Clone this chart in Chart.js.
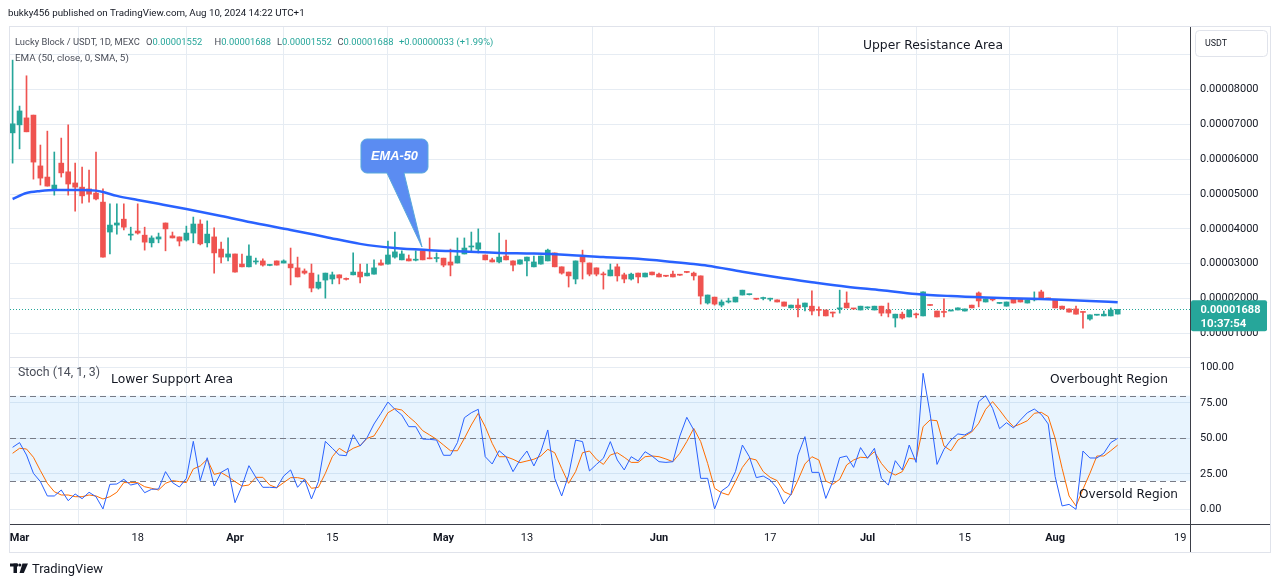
<!DOCTYPE html>
<html>
<head>
<meta charset="utf-8">
<title>Lucky Block / USDT</title>
<script src="https://cdn.jsdelivr.net/npm/chart.js@4.4.1/dist/chart.umd.min.js"></script>
<style>
  html, body { margin: 0; padding: 0; background: #ffffff; }
  canvas { display: block; }
</style>
</head>
<body>
<canvas id="chart" width="1281" height="587"></canvas>
<script>
// Prices are in units of 1e-5 USDT, one entry per daily candle (Feb 29 .. Aug 10)
const PRICE_UNIT = 1e-5;

const openP = [
  6.76, 6.99, 7.19, 7.27, 5.81, 5.49, 5.15, 5.89, 5.64, 5.32,
  5.20, 5.15, 5.03, 4.77, 3.91, 4.11, 4.28, 3.82, 3.94, 3.82,
  3.60, 3.71, 4.17, 3.80, 3.77, 3.68, 3.88, 4.14, 3.60, 3.77,
  3.42, 3.19, 3.28, 2.99, 2.91, 3.05, 3.08, 2.95, 3.08, 3.02,
  2.99, 2.88, 2.79, 2.73, 2.30, 2.53, 2.56, 2.68, 2.57, 2.68,
  2.76, 2.65, 2.70, 3.02, 2.99, 3.19, 3.11, 3.14, 3.10, 3.37,
  3.17, 3.15, 3.16, 3.05, 3.02, 3.28, 3.48, 3.42, 3.25, 3.11,
  3.05, 3.22, 3.08, 2.99, 3.08, 2.91, 2.99, 3.08, 3.31, 2.91,
  2.76, 2.56, 3.19, 3.02, 2.88, 2.70, 2.65, 2.91, 2.68, 2.56,
  2.73, 2.62, 2.76, 2.70, 2.66, 2.70, 2.68, 2.76, 2.73, 2.65,
  1.87, 2.04, 1.81, 1.90, 1.90, 2.10, 2.11, 1.99, 2.00, 1.98,
  1.96, 1.90, 1.73, 1.81, 1.76, 1.78, 1.68, 1.67, 1.61, 1.70,
  1.87, 1.71, 1.67, 1.73, 1.67, 1.78, 1.67, 1.44, 1.55, 1.47,
  1.55, 1.50, 1.82, 1.64, 1.62, 1.64, 1.67, 1.64, 1.81, 2.16,
  1.90, 1.97, 1.86, 1.78, 1.99, 1.99, 1.87, 1.96, 2.19, 2.01,
  1.96, 1.78, 1.70, 1.70, 1.62, 1.41, 1.52, 1.50, 1.50, 1.552
];
const highP = [
  8.85, 7.53, 8.40, 7.27, 6.41, 6.81, 6.21, 6.61, 6.99, 5.89,
  5.78, 5.69, 6.21, 5.15, 4.72, 4.72, 4.72, 4.05, 4.72, 4.05,
  3.80, 3.88, 4.17, 3.91, 3.77, 4.08, 4.34, 4.26, 4.23, 4.03,
  3.62, 3.74, 3.28, 3.28, 3.54, 3.16, 3.14, 2.97, 3.08, 3.11,
  3.45, 3.19, 2.85, 2.99, 2.68, 2.73, 2.76, 2.68, 2.59, 3.31,
  2.99, 2.99, 3.11, 3.11, 3.65, 3.91, 3.37, 3.25, 3.37, 3.37,
  3.74, 3.31, 3.16, 3.42, 3.74, 3.74, 3.91, 4.00, 3.25, 3.16,
  3.88, 3.68, 3.08, 3.11, 3.19, 3.22, 3.22, 3.42, 3.31, 2.91,
  2.76, 3.08, 3.39, 3.02, 2.88, 2.76, 2.99, 2.99, 2.73, 2.73,
  2.73, 2.73, 2.76, 2.73, 2.66, 2.79, 2.69, 2.77, 2.76, 2.65,
  2.10, 2.04, 1.96, 2.01, 2.04, 2.24, 2.13, 2.00, 2.04, 2.01,
  1.96, 1.90, 1.81, 1.99, 1.87, 2.22, 1.76, 1.67, 1.61, 2.24,
  2.19, 1.72, 1.78, 1.76, 1.78, 1.78, 1.87, 1.55, 1.61, 1.67,
  1.58, 2.19, 1.82, 1.64, 1.99, 1.67, 1.73, 1.70, 1.81, 2.19,
  1.99, 2.01, 1.88, 1.90, 1.99, 1.99, 1.96, 2.19, 2.24, 2.01,
  1.96, 1.78, 1.70, 1.78, 1.62, 1.53, 1.54, 1.64, 1.73, 1.688
];
const lowP = [
  5.89, 6.30, 6.79, 5.43, 5.26, 5.23, 4.97, 5.49, 4.97, 4.51,
  4.74, 4.77, 4.83, 3.19, 3.28, 3.85, 3.97, 3.68, 3.85, 3.39,
  3.48, 3.60, 3.37, 3.74, 3.51, 3.65, 3.60, 3.54, 3.48, 2.73,
  3.02, 3.08, 2.76, 2.91, 2.91, 2.99, 2.93, 2.94, 2.96, 3.02,
  2.39, 2.62, 2.70, 2.19, 2.27, 2.01, 2.42, 2.42, 2.53, 2.68,
  2.45, 2.65, 2.70, 2.96, 2.99, 3.16, 3.11, 3.08, 3.08, 3.11,
  3.14, 3.05, 2.91, 2.65, 3.02, 3.28, 3.34, 3.31, 3.11, 3.05,
  3.02, 3.11, 2.79, 2.99, 2.65, 2.91, 2.99, 3.08, 2.91, 2.70,
  2.33, 2.42, 2.56, 2.65, 2.65, 2.27, 2.65, 2.50, 2.45, 2.53,
  2.45, 2.62, 2.68, 2.62, 2.63, 2.62, 2.66, 2.74, 2.53, 1.84,
  1.84, 1.81, 1.76, 1.87, 1.90, 2.10, 2.10, 1.97, 1.96, 1.93,
  1.90, 1.78, 1.73, 1.47, 1.64, 1.53, 1.50, 1.50, 1.47, 1.58,
  1.73, 1.69, 1.67, 1.70, 1.67, 1.50, 1.47, 1.18, 1.41, 1.47,
  1.44, 1.50, 1.80, 1.47, 1.47, 1.64, 1.67, 1.64, 1.73, 1.76,
  1.90, 1.93, 1.85, 1.78, 1.87, 1.90, 1.87, 1.93, 1.99, 1.99,
  1.73, 1.70, 1.61, 1.55, 1.15, 1.38, 1.52, 1.50, 1.50, 1.552
];
const closeP = [
  7.02, 7.39, 6.79, 5.92, 5.46, 5.23, 5.26, 5.61, 5.29, 5.20,
  4.95, 5.00, 4.86, 3.19, 4.11, 4.17, 4.05, 3.85, 3.88, 3.62,
  3.74, 3.77, 4.00, 3.74, 3.65, 3.88, 4.14, 3.57, 3.85, 3.31,
  3.19, 3.28, 2.76, 2.91, 3.22, 3.08, 2.96, 2.96, 2.96, 3.08,
  2.88, 2.62, 2.73, 2.30, 2.47, 2.73, 2.68, 2.59, 2.55, 2.76,
  2.62, 2.73, 2.88, 2.96, 3.25, 3.34, 3.28, 3.08, 3.13, 3.11,
  3.14, 3.17, 2.96, 2.96, 3.22, 3.45, 3.51, 3.60, 3.11, 3.05,
  3.19, 3.11, 2.96, 3.11, 3.19, 3.05, 3.22, 3.39, 2.91, 2.73,
  2.65, 3.08, 3.05, 2.70, 2.70, 2.68, 2.82, 2.65, 2.56, 2.70,
  2.62, 2.73, 2.68, 2.62, 2.64, 2.62, 2.67, 2.75, 2.65, 2.07,
  2.10, 1.84, 1.90, 1.93, 2.04, 2.24, 2.12, 1.98, 2.01, 1.99,
  1.90, 1.78, 1.81, 1.73, 1.87, 1.64, 1.66, 1.50, 1.58, 1.73,
  1.73, 1.70, 1.78, 1.75, 1.78, 1.58, 1.58, 1.55, 1.44, 1.67,
  1.53, 2.19, 1.80, 1.47, 1.60, 1.67, 1.73, 1.70, 1.73, 1.93,
  1.99, 1.96, 1.87, 1.90, 1.87, 1.90, 1.96, 1.99, 1.99, 1.99,
  1.73, 1.70, 1.61, 1.55, 1.60, 1.53, 1.53, 1.55, 1.67, 1.688
];

// EMA 50 at these bars
const emaBars = [0, 2, 4, 6, 8, 10, 12, 13, 15, 18, 21, 25, 30, 35, 40, 45, 50, 55, 60, 65,
  70, 75, 80, 85, 90, 95, 98, 100, 105, 110, 115, 120, 125, 130, 135, 140, 145, 150, 155, 159];
const emaValues = [4.86, 5.03, 5.09, 5.12, 5.12, 5.12, 5.10, 5.06, 4.95, 4.83, 4.72, 4.57, 4.37, 4.16, 3.97, 3.77, 3.57, 3.45, 3.39, 3.35,
  3.31, 3.29, 3.25, 3.19, 3.14, 3.05, 2.99, 2.94, 2.77, 2.61, 2.47, 2.34, 2.24, 2.13, 2.07, 2.03, 2.00, 1.97, 1.93, 1.89];

// Stoch (14, 1, 3)
const stochK = [
  43.7, 47.0, 38.3, 25.4, 19.6, 9.5, 9.5, 13.7, 6.2, 10.9,
  7.6, 12.1, 9.0, 0.4, 17.7, 17.9, 21.2, 17.2, 18.4, 11.8,
  14.2, 14.4, 26.6, 18.9, 15.8, 21.9, 47.9, 20.3, 36.4, 16.5,
  26.1, 28.9, 4.8, 16.5, 30.8, 22.6, 15.6, 15.6, 15.3, 23.5,
  27.8, 15.6, 21.2, 7.4, 19.6, 47.9, 43.0, 38.3, 37.8, 52.6,
  44.6, 50.5, 60.1, 67.6, 75.5, 70.4, 66.4, 58.2, 58.2, 49.5,
  49.3, 48.8, 38.1, 38.1, 47.0, 64.5, 68.0, 70.4, 37.1, 32.0,
  41.3, 37.1, 26.6, 34.8, 41.1, 30.6, 40.6, 55.9, 21.9, 9.5,
  24.2, 48.8, 47.7, 27.1, 31.7, 36.0, 47.7, 34.8, 27.8, 37.1,
  34.1, 40.6, 37.6, 33.6, 33.1, 33.6, 51.6, 64.8, 55.9, 21.9,
  21.9, 0.4, 13.0, 16.5, 26.6, 45.3, 37.1, 22.4, 23.5, 20.7,
  14.9, 3.9, 10.7, 38.3, 51.2, 26.1, 26.1, 7.8, 19.6, 36.4,
  37.6, 29.6, 43.5, 36.0, 43.0, 21.9, 17.2, 34.3, 27.8, 45.3,
  33.1, 95.7, 67.6, 31.7, 42.3, 48.8, 53.1, 52.4, 55.2, 75.8,
  80.0, 71.1, 56.8, 61.0, 57.3, 62.9, 68.0, 70.6, 66.9, 60.1,
  23.1, 2.5, 3.6, 0.1, 41.1, 36.2, 36.2, 39.5, 47.0, 50.0
];
const stochD = [
  39.5, 43.0, 42.5, 36.7, 27.3, 18.4, 12.5, 10.2, 10.2, 9.0,
  9.0, 10.2, 9.5, 7.4, 9.0, 12.1, 18.9, 18.9, 18.9, 16.0,
  14.9, 13.7, 18.4, 20.3, 19.6, 18.9, 28.5, 30.6, 35.3, 24.7,
  25.9, 23.1, 19.6, 16.5, 17.2, 22.6, 22.6, 17.2, 15.3, 18.9,
  22.4, 22.4, 21.4, 14.9, 15.6, 25.4, 37.1, 43.0, 39.9, 43.0,
  44.9, 50.0, 51.7, 59.4, 68.0, 70.9, 69.9, 65.2, 61.0, 55.4,
  52.4, 49.3, 45.3, 41.3, 41.3, 50.0, 59.4, 67.6, 58.2, 46.5,
  37.1, 37.1, 35.3, 32.9, 34.1, 35.3, 37.6, 42.3, 39.9, 28.9,
  18.4, 26.6, 39.9, 41.1, 35.3, 31.7, 38.3, 39.9, 36.7, 33.1,
  33.1, 37.1, 37.6, 37.1, 35.5, 33.6, 39.5, 47.7, 57.0, 47.7,
  32.4, 14.9, 11.8, 10.2, 19.6, 29.6, 36.0, 34.8, 26.6, 22.6,
  20.3, 12.5, 10.2, 20.7, 32.0, 37.1, 34.8, 20.0, 17.7, 21.2,
  31.3, 34.8, 36.7, 36.4, 40.6, 32.4, 26.6, 24.2, 26.6, 36.0,
  35.3, 58.2, 62.9, 62.4, 44.6, 41.3, 48.8, 51.6, 54.5, 60.6,
  70.4, 75.8, 69.9, 63.4, 58.2, 60.1, 62.4, 67.6, 68.3, 65.3,
  50.0, 28.9, 9.5, 2.5, 14.2, 25.4, 37.6, 37.6, 41.3, 45.3
];

const dateTickBars = [1, 18, 32, 46, 62, 74, 93, 109, 123, 137, 150, 168];
const dateTickLabels = ['Mar', '18', 'Apr', '15', 'May', '13', 'Jun', '17', 'Jul', '15', 'Aug', '19'];
const priceTicks = [1, 2, 3, 4, 5, 6, 7, 8, 9];
const stochTicks = [0, 25, 50, 75, 100];
const stochLevels = [80, 50, 20];
const lastPrice = 1.688;
const lastTime = '10:37:54';

const UP = '#26a69a';
const DOWN = '#ef5350';
const GRID = '#e6ecf3';
const AXIS_LINE = '#3b3e47';
const TEXT = '#131722';

const candleColors = openP.map((o, i) => closeP[i] >= o ? UP : DOWN);
const monthBars = dateTickBars.filter((b, i) => isNaN(Number(dateTickLabels[i])));

function fitFont(ctx, text, style, family, width) {
    ctx.font = `${style} 20px ${family}`;
    const w = ctx.measureText(text).width;
    return `${style} ${(20 * width / w).toFixed(2)}px ${family}`;
}

function drawText(ctx, text, x, y, width, color, style = 'normal', family = 'Roboto', align = 'left') {
    ctx.font = fitFont(ctx, text, style, family, width);
    ctx.fillStyle = color;
    ctx.textAlign = align;
    ctx.textBaseline = 'middle';
    ctx.fillText(text, x, y);
}

const decorations = {
    id: 'decorations',
    beforeDraw(chart) {
        const ctx = chart.ctx;
        ctx.save();
        ctx.fillStyle = '#ffffff';
        ctx.fillRect(0, 0, chart.width, chart.height);
        ctx.restore();
    },
    beforeDatasetsDraw(chart) {
        const { ctx, chartArea: a, scales } = chart;
        const ys = scales.yStoch;
        const yp = scales.yPrice;
        ctx.save();

        // 20..80 band of the stochastic
        const top = ys.getPixelForValue(stochLevels[0]);
        const bot = ys.getPixelForValue(stochLevels[2]);
        ctx.fillStyle = 'rgba(33, 150, 243, 0.1)';
        ctx.fillRect(a.left, top, a.right - a.left, bot - top);

        ctx.strokeStyle = '#787b86';
        ctx.lineWidth = 1;
        ctx.setLineDash([6, 4]);
        stochLevels.forEach(v => {
            const y = Math.round(ys.getPixelForValue(v)) + 0.5;
            ctx.beginPath();
            ctx.moveTo(a.left, y);
            ctx.lineTo(a.right, y);
            ctx.stroke();
        });

        // pane separator
        ctx.setLineDash([]);
        ctx.strokeStyle = '#e0e3eb';
        const sy = Math.round(yp.bottom) + 0.5;
        ctx.beginPath();
        ctx.moveTo(a.left, sy);
        ctx.lineTo(a.right, sy);
        ctx.stroke();

        // last price line
        ctx.strokeStyle = UP;
        ctx.setLineDash([1, 2]);
        const ly = Math.round(yp.getPixelForValue(lastPrice * PRICE_UNIT)) + 0.5;
        ctx.beginPath();
        ctx.moveTo(a.left, ly);
        ctx.lineTo(a.right, ly);
        ctx.stroke();
        ctx.restore();
    },
    afterDraw(chart) {
        const { ctx, chartArea: a, scales } = chart;
        const yp = scales.yPrice;
        ctx.save();

        // outer frame and axis line extensions
        ctx.strokeStyle = '#e0e3eb';
        ctx.lineWidth = 1;
        ctx.strokeRect(9.5, 26.5, 1261, 526);
        ctx.strokeStyle = AXIS_LINE;
        ctx.beginPath();
        ctx.moveTo(a.right, Math.round(a.bottom) + 0.5);
        ctx.lineTo(1270, Math.round(a.bottom) + 0.5);
        ctx.moveTo(Math.round(a.right) + 0.5, a.bottom);
        ctx.lineTo(Math.round(a.right) + 0.5, 552);
        ctx.stroke();

        // header
        drawText(ctx, 'bukky456 published on TradingView.com, Aug 10, 2024 14:22 UTC+1', 8, 14, 297, TEXT);

        // legend line
        const legFont = fitFont(ctx, 'Lucky Block / USDT, 1D, MEXC', 'normal', 'Roboto', 125);
        ctx.font = legFont;
        ctx.textBaseline = 'middle';
        ctx.textAlign = 'left';
        ctx.fillStyle = '#4a4e59';
        ctx.fillText('Lucky Block / USDT, 1D, MEXC', 15, 43);
        const parts = [['O', '0.00001552', 146], ['H', '0.00001688', 214.5], ['L', '0.00001552', 277], ['C', '0.00001688', 337.5]];
        parts.forEach(([k, v, x]) => {
            ctx.fillStyle = '#4a4e59';
            ctx.fillText(k, x, 43);
            ctx.fillStyle = UP;
            ctx.fillText(v, x + ctx.measureText(k).width, 43);
        });
        ctx.fillStyle = UP;
        ctx.fillText('+0.00000033 (+1.99%)', 399, 43);

        drawText(ctx, 'EMA (50, close, 0, SMA, 5)', 15, 59, 114, '#4a4e59');
        drawText(ctx, 'Stoch (14, 1, 3)', 18, 373, 82, '#4a4e59');

        // annotations
        drawText(ctx, 'Upper Resistance Area', 933, 46, 140, TEXT, 'normal', "'DejaVu Sans'", 'center');
        drawText(ctx, 'Lower Support Area', 172, 380, 122, TEXT, 'normal', "'DejaVu Sans'", 'center');
        drawText(ctx, 'Overbought Region', 1109, 379.5, 118, TEXT, 'normal', "'DejaVu Sans'", 'center');
        drawText(ctx, 'Oversold Region', 1128.5, 495, 99, TEXT, 'normal', "'DejaVu Sans'", 'center');

        // EMA-50 callout pointing at the EMA line
        const tipX = scales.x.getPixelForValue(58.9);
        const tipY = yp.getPixelForValue(3.48 * PRICE_UNIT);
        const bx = tipX - 61, by = tipY - 108, bw = 67, bh = 34, r = 6;
        ctx.beginPath();
        ctx.moveTo(bx + r, by);
        ctx.lineTo(bx + bw - r, by);
        ctx.arcTo(bx + bw, by, bx + bw, by + r, r);
        ctx.lineTo(bx + bw, by + bh - r);
        ctx.arcTo(bx + bw, by + bh, bx + bw - r, by + bh, r);
        ctx.lineTo(tipX - 18, by + bh);
        ctx.lineTo(tipX, tipY);
        ctx.lineTo(tipX - 35, by + bh);
        ctx.lineTo(bx + r, by + bh);
        ctx.arcTo(bx, by + bh, bx, by + bh - r, r);
        ctx.lineTo(bx, by + r);
        ctx.arcTo(bx, by, bx + r, by, r);
        ctx.closePath();
        ctx.fillStyle = '#5b8cf2';
        ctx.fill();
        ctx.strokeStyle = '#58a8dc';
        ctx.lineWidth = 1;
        ctx.stroke();
        drawText(ctx, 'EMA-50', bx + bw / 2, by + 17, 47, '#ffffff', 'italic bold', "'Liberation Sans'", 'center');

        // currency button
        ctx.beginPath();
        ctx.roundRect(1195.5, 30.5, 72, 26, 4);
        ctx.strokeStyle = '#e0e3eb';
        ctx.stroke();
        drawText(ctx, 'USDT', 1205, 44, 22, TEXT);

        // last price label
        const py = yp.getPixelForValue(lastPrice * PRICE_UNIT);
        ctx.beginPath();
        ctx.roundRect(1191, py - 9, 76, 31, 2);
        ctx.fillStyle = UP;
        ctx.fill();
        drawText(ctx, (lastPrice * PRICE_UNIT).toFixed(8), 1200.5, py + 1, 60, '#ffffff', 'bold');
        drawText(ctx, lastTime, 1200.5, py + 14.5, 46, '#ffffff', 'bold');

        // TradingView logo
        ctx.fillStyle = TEXT;
        ctx.fillRect(10, 563.5, 8, 3);
        ctx.fillRect(13.5, 563.5, 3.5, 9.5);
        ctx.beginPath();
        ctx.arc(19.8, 565, 1.6, 0, Math.PI * 2);
        ctx.fill();
        ctx.beginPath();
        ctx.moveTo(22.5, 563.5);
        ctx.lineTo(28, 563.5);
        ctx.lineTo(23.8, 573);
        ctx.lineTo(19.5, 573);
        ctx.closePath();
        ctx.fill();
        drawText(ctx, 'TradingView', 32, 569.5, 71, TEXT);

        ctx.restore();
    }
};

const wickData = lowP.map((l, i) => ({ x: i, y: [l * PRICE_UNIT, highP[i] * PRICE_UNIT] }));
const bodyData = openP.map((o, i) => ({ x: i, y: [o * PRICE_UNIT, closeP[i] * PRICE_UNIT] }));

new Chart(document.getElementById('chart'), {
    type: 'bar',
    data: {
        datasets: [
            {
                type: 'line',
                label: '%K',
                data: stochK.map((v, i) => ({ x: i, y: v })),
                yAxisID: 'yStoch',
                borderColor: '#2962ff',
                borderWidth: 1,
                pointRadius: 0,
                order: 1
            },
            {
                type: 'line',
                label: '%D',
                data: stochD.map((v, i) => ({ x: i, y: v })),
                yAxisID: 'yStoch',
                borderColor: '#ff6d00',
                borderWidth: 1,
                pointRadius: 0,
                order: 2
            },
            {
                type: 'line',
                label: 'EMA 50',
                data: emaBars.map((b, k) => ({ x: b, y: emaValues[k] * PRICE_UNIT })),
                yAxisID: 'yPrice',
                borderColor: '#2962ff',
                borderWidth: 2.5,
                pointRadius: 0,
                cubicInterpolationMode: 'monotone',
                order: 3
            },
            {
                label: 'body',
                data: bodyData,
                yAxisID: 'yPrice',
                backgroundColor: candleColors,
                barThickness: 5,
                minBarLength: 1,
                grouped: false,
                order: 4
            },
            {
                label: 'wick',
                data: wickData,
                yAxisID: 'yPrice',
                backgroundColor: candleColors,
                barThickness: 1,
                grouped: false,
                order: 5
            }
        ]
    },
    options: {
        responsive: false,
        animation: false,
        devicePixelRatio: 1,
        layout: { padding: { left: 10, top: 27, right: 10, bottom: 35 } },
        plugins: {
            legend: { display: false },
            tooltip: { enabled: false }
        },
        scales: {
            x: {
                type: 'linear',
                min: -0.374,
                max: 169.4,
                offset: false,
                afterBuildTicks: s => { s.ticks = dateTickBars.map(v => ({ value: v })); },
                afterFit: s => { s.height = 28; },
                ticks: {
                    autoSkip: false,
                    maxRotation: 0,
                    padding: 8,
                    color: TEXT,
                    font: c => ({ family: 'Roboto', size: 11, weight: c.tick && monthBars.includes(c.tick.value) ? 'bold' : 'normal' }),
                    callback: v => {
                        const k = dateTickBars.indexOf(v);
                        return k >= 0 ? dateTickLabels[k] : '';
                    }
                },
                grid: { color: GRID, drawTicks: false },
                border: { color: AXIS_LINE }
            },
            yPrice: {
                type: 'linear',
                position: 'right',
                stack: 'panes',
                stackWeight: 330,
                min: 0.319 * PRICE_UNIT,
                max: 9.802 * PRICE_UNIT,
                afterBuildTicks: s => { s.ticks = priceTicks.map(v => ({ value: v * PRICE_UNIT })); },
                afterFit: s => { s.width = 81; },
                ticks: {
                    padding: 10,
                    color: TEXT,
                    font: { family: 'Roboto', size: 11 },
                    callback: v => v > 8.5 * PRICE_UNIT ? '' : v.toFixed(8)
                },
                grid: { color: GRID, drawTicks: false },
                border: { color: AXIS_LINE }
            },
            yStoch: {
                type: 'linear',
                position: 'right',
                stack: 'panes',
                stackWeight: 167,
                min: -10.19,
                max: 107.17,
                afterBuildTicks: s => { s.ticks = stochTicks.map(v => ({ value: v })); },
                afterFit: s => { s.width = 81; },
                ticks: {
                    padding: 10,
                    color: TEXT,
                    font: { family: 'Roboto', size: 11 },
                    callback: v => v.toFixed(2)
                },
                grid: { color: GRID, drawTicks: false },
                border: { color: AXIS_LINE }
            }
        }
    },
    plugins: [decorations]
});
</script>
</body>
</html>
